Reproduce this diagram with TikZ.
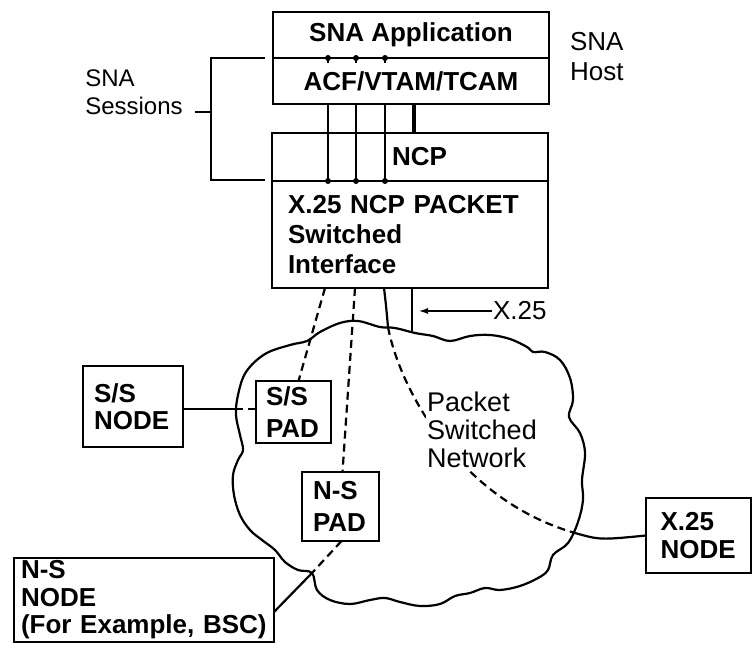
\documentclass[tikz,border=0pt]{standalone}
\usepackage{fontspec}
\setmainfont{Liberation Sans}
\usetikzlibrary{arrows.meta,calc}

\tikzset{
	>={Latex[length=10pt,width=6pt]},
	box/.style={draw, fill=white, inner sep=0pt, outer sep=0pt, font=\bfseries\fontsize{26}{30}\selectfont},
	tight/.style={font=\bfseries\fontsize{26}{27.5}\selectfont},
	loose/.style={font=\bfseries\fontsize{26}{32}\selectfont},
	lbl/.style={inner sep=0pt, font=\fontsize{26}{30}\selectfont},
	dsh/.style={dash pattern=on 8pt off 5pt}
}

\begin{document}
\begin{tikzpicture}[x=1pt,y=-1pt,line width=2.2pt]
		\useasboundingbox (0,0) rectangle (752,652);

		% the network cloud
		\draw plot[smooth cycle, tension=0.6] coordinates {
			(307,341) (320,332) (340,323) (358,321) (380,327) (395,328) (415,333)
			(433,336) (450,341) (470,336) (490,335) (510,339) (527,347) (533,352)
			(545,352) (560,360) (570,378) (573,400) (569,417) (580,433) (585,453)
			(582,480) (583,500) (578,522) (568,543) (553,555) (548,570) (538,578)
			(520,586) (500,590) (485,588) (470,593) (455,596) (440,604) (420,606)
			(400,602) (385,598) (370,600) (350,604) (330,600) (317,590) (312,573)
			(298,570) (285,562) (275,550) (262,540) (250,530) (240,515) (234,495)
			(233,475) (238,460) (243,450) (240,435) (236,415) (238,395) (246,372)
			(265,354) (290,345)};

		% host and front end
		\node[box, minimum width=276pt, minimum height=46pt] (app) at (411,35) {SNA Application};
		\node[box, minimum width=276pt, minimum height=46pt] (acf) at (411,81) {ACF/VTAM/TCAM};
		\node[lbl, anchor=west, align=left] (host) at (569,57) {SNA\\Host};
		\node[box, minimum width=276pt, minimum height=48pt] (ncp) at (410,157) {};
		\node[box, draw=none, fill=none, anchor=west] (ncplbl) at (392,157) {NCP};
		\node[box, minimum width=276pt, minimum height=107pt, text width=244pt,
			align=left, inner xsep=16pt] (x25if) at (410,234.5)
			{X.25 NCP PACKET\\Switched\\Interface};

		% outside nodes and pads
		\node[box, tight, minimum width=100pt, minimum height=81pt, text width=78pt,
			align=left, inner xsep=11pt] (ssn) at (133,406.5) {S/S\\NODE};
		\node[box, loose, minimum width=75pt, minimum height=62pt, text width=55pt,
			align=left, inner xsep=10pt] (ssp) at (293.5,412) {S/S\\PAD};
		\node[box, loose, minimum width=77pt, minimum height=69pt, text width=55pt,
			align=left, inner xsep=11pt] (nsp) at (340.5,506.5) {N-S\\PAD};
		\node[box, tight, minimum width=105pt, minimum height=75pt, text width=76pt,
			align=left, inner xsep=14pt] (x25n) at (698.5,535.5) {X.25\\NODE};
		\node[box, tight, minimum width=260pt, minimum height=84pt, text width=246pt,
			align=left, inner xsep=7pt] (nsn) at (144,600)
			{N-S\\NODE\\(For Example, BSC)};

		% sessions
		\coordinate (brtop) at (211,58);
		\coordinate (brbot) at (211,180);
		\draw (265,58) -- (brtop) -- (brbot) -- (265,180);
		\node[lbl, align=left, font=\fontsize{24}{28}\selectfont] (sess) at (134,92) {SNA\\Sessions};
		\draw (195,112) -- (brtop |- 0,112);
		\foreach \sx in {328,356,385} {
			\draw (acf.north -| \sx,0) -- ++(0,5);
			\draw (acf.south -| \sx,0) -- (x25if.north -| \sx,0);
			\fill (acf.north -| \sx,0) circle (3pt) (x25if.north -| \sx,0) circle (3pt);
		}
		\draw[line width=4pt] (acf.south -| 414,0) -- (ncp.north -| 414,0);

		% links through the network
		\draw[dsh] (x25if.south -| 325,0) -- ($(ssp.north)+(5,0)$);
		\draw[dsh] (x25if.south -| 355,0) -- ($(nsp.north)+(2,0)$);
		\coordinate (cin) at (388,327);
		\coordinate (cout) at (575,533);
		\draw (x25if.south -| 384,0) .. controls (386,305) .. (cin);
		\draw[dsh] (cin) .. controls (400,390) and (460,500) .. (cout);
		\draw (cout) .. controls (600,540) .. (x25n.west);
		\draw (x25if.south -| 412,0) -- (412,332);
		\node[lbl, anchor=west] (x25lbl) at (492,311) {X.25};
		\draw[->] (x25lbl.west) -- (418,311);

		\coordinate (sscross) at (235,409);
		\draw (ssn.east |- sscross) -- (sscross);
		\draw[dsh] (sscross) -- (ssp.west |- sscross);
		\coordinate (cusp) at (312,573);
		\draw[dsh] ($(nsp.south)+(1,0)$) -- (cusp);
		\draw (cusp) -- (nsn.east |- 0,612);

		\node[lbl, align=left, fill=white, inner sep=1pt, font=\fontsize{27}{28}\selectfont]
			(psn) at (482,430) {Packet\\Switched\\Network};
\end{tikzpicture}
\end{document}
